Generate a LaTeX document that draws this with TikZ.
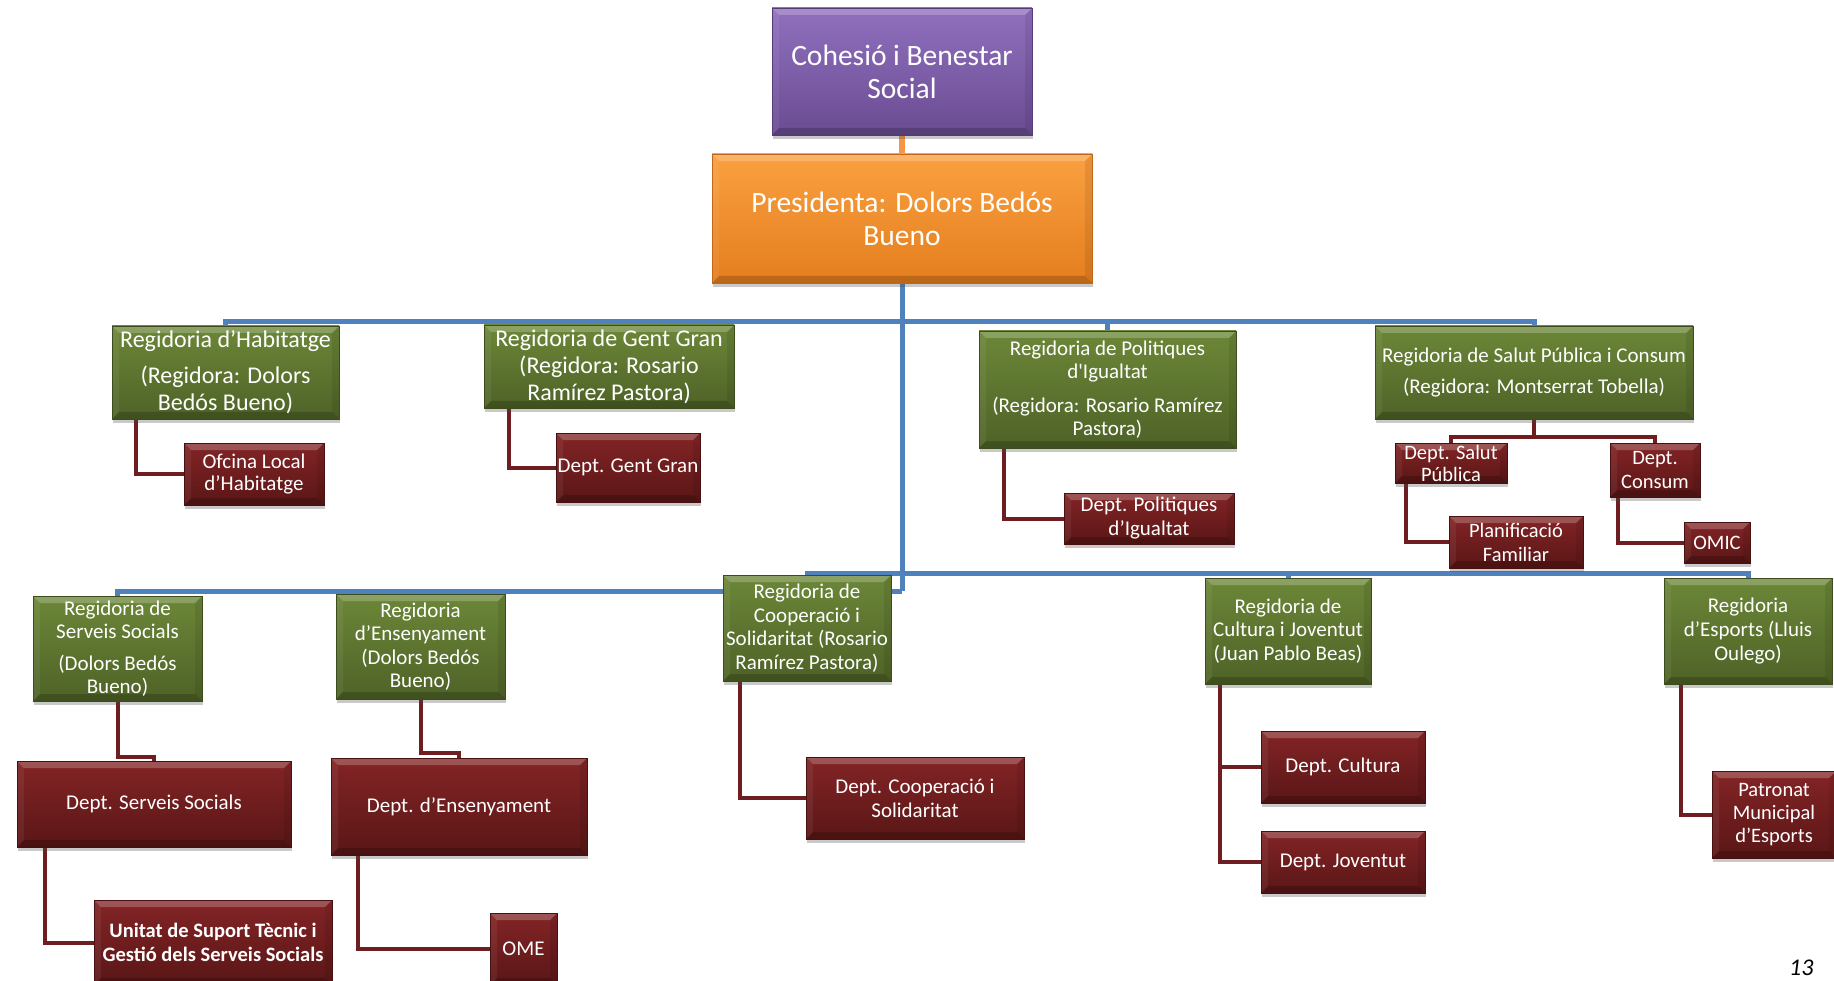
\documentclass[tikz,border=0pt]{standalone}
\usepackage{fontspec}
\setmainfont{Carlito}
\newfontfamily\plainfont{Carlito}
\usetikzlibrary{shadows,backgrounds}
\definecolor{pTop}{HTML}{9070BE}
\definecolor{pBot}{HTML}{6A4C92}
\definecolor{pBrd}{HTML}{553C78}
\definecolor{oTop}{HTML}{FAA040}
\definecolor{oBot}{HTML}{E47E1E}
\definecolor{oBrd}{HTML}{C06818}
\definecolor{gTop}{HTML}{6C8738}
\definecolor{gBot}{HTML}{4E6227}
\definecolor{gBrd}{HTML}{3C4C1C}
\definecolor{rTop}{HTML}{832426}
\definecolor{rBot}{HTML}{5A1616}
\definecolor{rBrd}{HTML}{481010}
\definecolor{blueLine}{HTML}{4F81BD}
\definecolor{redLine}{HTML}{6E1E20}
\definecolor{orangeLine}{HTML}{F79646}
\begin{document}
\begin{tikzpicture}[x=1pt,y=-1pt,
  bevel/.style={path picture={
    \fill[white,opacity=.22] (path picture bounding box.north west) -- (path picture bounding box.north east) -- ([xshift=-7pt,yshift=-7pt]path picture bounding box.north east) -- ([xshift=7pt,yshift=-7pt]path picture bounding box.north west) -- cycle;
    \fill[black,opacity=.18] (path picture bounding box.south west) -- (path picture bounding box.south east) -- ([xshift=-7pt,yshift=7pt]path picture bounding box.south east) -- ([xshift=7pt,yshift=7pt]path picture bounding box.south west) -- cycle;
    \fill[black,opacity=.08] (path picture bounding box.north east) -- (path picture bounding box.south east) -- ([xshift=-7pt,yshift=7pt]path picture bounding box.south east) -- ([xshift=-7pt,yshift=-7pt]path picture bounding box.north east) -- cycle;
    \fill[white,opacity=.06] (path picture bounding box.north west) -- (path picture bounding box.south west) -- ([xshift=7pt,yshift=7pt]path picture bounding box.south west) -- ([xshift=7pt,yshift=-7pt]path picture bounding box.north west) -- cycle;
  }},
  base/.style={draw, line width=0.8pt, inner sep=0pt, align=center, text=white,
    bevel, drop shadow={shadow xshift=1pt, shadow yshift=-4pt, opacity=0.3, fill=black!70}},
  purplebox/.style={base, top color=pTop, bottom color=pBot, draw=pBrd},
  orangebox/.style={base, top color=oTop, bottom color=oBot, draw=oBrd},
  greenbox/.style={base, top color=gTop, bottom color=gBot, draw=gBrd},
  redbox/.style={base, top color=rTop, bottom color=rBot, draw=rBrd},
  bl/.style={draw=blueLine, line width=5pt},
  rl/.style={draw=redLine, line width=4pt},
  ol/.style={draw=orangeLine, line width=6pt},
]
\useasboundingbox (0,0) rectangle (1834,981);

\coordinate (t) at (902,322);
\coordinate (b) at (902,591);
\coordinate (c) at (902,573);

% top boxes
\node[purplebox, minimum width=260pt, minimum height=127pt, font=\fontsize{29.5}{33}\selectfont] (coh) at (902,71.5) {Cohesió i Benestar\\Social};
\node[orangebox, minimum width=380pt, minimum height=129pt, font=\fontsize{29.5}{33}\selectfont] (pres) at (902,218.5) {Presidenta: Dolors Bedós\\Bueno};

% row 1 green
\node[greenbox, minimum width=227pt, minimum height=93pt, font=\fontsize{24}{27}\selectfont] (hab) at (225.5,372.5) {Regidoria d’Habitatge\\[9pt](Regidora: Dolors\\Bedós Bueno)};
\node[greenbox, minimum width=250pt, minimum height=83pt, font=\fontsize{24}{27}\selectfont] (gent) at (609,366.5) {Regidoria de Gent Gran\\(Regidora: Rosario\\Ramírez Pastora)};
\node[greenbox, minimum width=257pt, minimum height=117pt, font=\fontsize{21}{23}\selectfont] (pol) at (1107.5,389.5) {Regidoria de Politiques\\d{\plainfont '}Igualtat\\[11pt](Regidora: Rosario Ramírez\\Pastora)};
\node[greenbox, minimum width=318pt, minimum height=93pt, font=\fontsize{21}{23}\selectfont] (salut) at (1534,372.5) {Regidoria de Salut Pública i Consum\\[8pt](Regidora: Montserrat Tobella)};

% row 1 red
\node[redbox, minimum width=140pt, minimum height=62pt, font=\fontsize{21}{22}\selectfont] (ofc) at (254,474) {Ofcina Local\\d’Habitatge};
\node[redbox, minimum width=144pt, minimum height=69pt, font=\fontsize{21}{24}\selectfont] (dgent) at (628,467.5) {Dept. Gent Gran};
\node[redbox, minimum width=170pt, minimum height=51pt, font=\fontsize{21}{24}\selectfont] (dpol) at (1149,518.5) {Dept. Politiques\\d’Igualtat};
\node[redbox, minimum width=112pt, minimum height=40pt, font=\fontsize{20.5}{22}\selectfont] (dsp) at (1451,463) {Dept. Salut\\Pública};
\node[redbox, minimum width=90pt, minimum height=54pt, font=\fontsize{20.5}{24}\selectfont] (dcons) at (1655,470) {Dept.\\Consum};
\node[redbox, minimum width=134pt, minimum height=52pt, font=\fontsize{20.5}{24}\selectfont] (plan) at (1516,542) {Planificació\\Familiar};
\node[redbox, minimum width=66pt, minimum height=41pt, font=\fontsize{20.5}{22}\selectfont] (omic) at (1717,542.5) {OMIC};

% row 2 green
\node[greenbox, minimum width=169pt, minimum height=105pt, font=\fontsize{21}{23.5}\selectfont] (ss) at (117.5,648.5) {Regidoria de\\Serveis Socials\\[8pt](Dolors Bedós\\Bueno)};
\node[greenbox, minimum width=169pt, minimum height=105pt, font=\fontsize{21}{23.5}\selectfont] (ens) at (420.5,646.5) {Regidoria\\d’Ensenyament\\(Dolors Bedós\\Bueno)};
\node[greenbox, minimum width=168pt, minimum height=106pt, font=\fontsize{21}{23.5}\selectfont] (coop) at (807,628) {Regidoria de\\Cooperació i\\Solidaritat (Rosario\\Ramírez Pastora)};
\node[greenbox, minimum width=166pt, minimum height=106pt, font=\fontsize{21}{23.5}\selectfont] (cult) at (1288,631) {Regidoria de\\Cultura i Joventut\\(Juan Pablo Beas)};
\node[greenbox, minimum width=168pt, minimum height=106pt, font=\fontsize{21}{24}\selectfont] (esp) at (1748,631) {Regidoria\\d’Esports (Lluis\\Oulego)};

% row 2 red
\node[redbox, minimum width=274pt, minimum height=86pt, font=\fontsize{21}{24}\selectfont] (dss) at (154,804) {Dept. Serveis Socials};
\node[redbox, minimum width=256pt, minimum height=97pt, font=\fontsize{21}{24}\selectfont] (dens) at (459,806.5) {Dept. d’Ensenyament};
\node[redbox, minimum width=238pt, minimum height=85pt, font=\fontsize{20.5}{24}\selectfont\bfseries] (unit) at (213,942.5) {Unitat de Suport Tècnic i\\Gestió dels Serveis Socials};
\node[redbox, minimum width=67pt, minimum height=72pt, font=\fontsize{21}{24}\selectfont] (ome) at (523.5,949) {OME};
\node[redbox, minimum width=218pt, minimum height=82pt, font=\fontsize{21}{24}\selectfont] (dcoop) at (915,798) {Dept. Cooperació i\\Solidaritat};
\node[redbox, minimum width=164pt, minimum height=72pt, font=\fontsize{21}{24}\selectfont] (dcult) at (1343,767) {Dept. Cultura};
\node[redbox, minimum width=164pt, minimum height=62pt, font=\fontsize{21}{24}\selectfont] (djov) at (1343,862) {Dept. Joventut};
\node[redbox, minimum width=124pt, minimum height=87pt, font=\fontsize{20.5}{23}\selectfont] (patr) at (1774,814.5) {Patronat\\Municipal\\d’Esports};

% page number
\node[anchor=north west, inner sep=0pt, font=\fontsize{24}{28}\selectfont\itshape] (pg) at (1789,960) {13};

% connectors behind boxes
\begin{pgfonlayer}{background}
\draw[ol] (coh.south) -- (pres.north);
\draw[bl] (pres.south) -- (b);
\draw[bl] (t) -| (hab.north);
\draw[bl] (t) -| (gent.north);
\draw[bl] (t) -| (pol.north);
\draw[bl] (t) -| (salut.north);
\draw[bl] (b) -| (ss.north);
\draw[bl] (b) -| (ens.north);
\draw[bl] (c) -| (coop.north);
\draw[bl] (c) -| (cult.north);
\draw[bl] (c) -| (esp.north);

\draw[rl] ([xshift=24pt]hab.south west) |- (ofc.west);
\draw[rl] ([xshift=25pt]gent.south west) |- (dgent.west);
\draw[rl] ([xshift=25pt]pol.south west) |- (dpol.west);
\draw[rl] (salut.south) -- ++(0,18) -| (dsp.north);
\draw[rl] (salut.south) -- ++(0,18) -| (dcons.north);
\draw[rl] ([xshift=11pt]dsp.south west) |- (plan.west);
\draw[rl] ([xshift=8pt]dcons.south west) |- (omic.west);
\draw[rl] (ss.south) -- ++(0,56) -| (dss.north);
\draw[rl] (ens.south) -- ++(0,54) -| (dens.north);
\draw[rl] ([xshift=28pt]dss.south west) |- (unit.west);
\draw[rl] ([xshift=27pt]dens.south west) |- (ome.west);
\draw[rl] ([xshift=17pt]coop.south west) |- (dcoop.west);
\draw[rl] ([xshift=15pt]cult.south west) |- (dcult.west);
\draw[rl] ([xshift=15pt]cult.south west) |- (djov.west);
\draw[rl] ([xshift=17pt]esp.south west) |- (patr.west);
\end{pgfonlayer}
\end{tikzpicture}
\end{document}
